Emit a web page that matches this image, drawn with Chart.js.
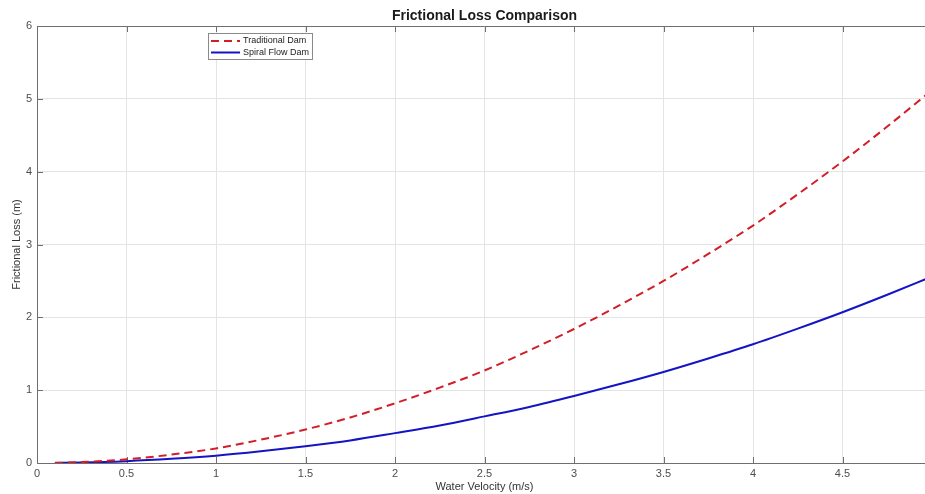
<!DOCTYPE html>
<html lang="en">
<head>
<meta charset="UTF-8">
<title>Frictional Loss Comparison</title>
<style>
  body { margin: 0; background: #fff; overflow: hidden; }
  #wrap { width: 925px; height: 494px; overflow: hidden; }
  canvas { display: block; }
</style>
<script src="https://cdn.jsdelivr.net/npm/chart.js"></script>
</head>
<body>
<div id="wrap"><canvas id="chart" width="950" height="494"></canvas></div>
<script>
// values
const velocity = [0.1, 0.25, 0.5, 0.75, 1, 1.25, 1.5, 1.75, 2, 2.25, 2.5, 2.75, 3, 3.25, 3.5, 3.75, 4, 4.25, 4.5, 4.75, 5];
const traditionalLoss = [0.002, 0.013, 0.05, 0.115, 0.2, 0.32, 0.46, 0.625, 0.82, 1.035, 1.27, 1.545, 1.84, 2.16, 2.5, 2.87, 3.26, 3.69, 4.14, 4.62, 5.12];
const spiralLoss = [0.001, 0.006, 0.025, 0.057, 0.1, 0.16, 0.23, 0.31, 0.41, 0.515, 0.64, 0.77, 0.92, 1.08, 1.25, 1.435, 1.63, 1.845, 2.07, 2.31, 2.56];
const xTickLabels = ['0', '0.5', '1', '1.5', '2', '2.5', '3', '3.5', '4', '4.5', '5'];
const yTickLabels = ['0', '1', '2', '3', '4', '5', '6'];
const chartTitle = 'Frictional Loss Comparison';

const FONT = 'Liberation Sans, Arial, sans-serif';
const RED = 'rgb(210, 30, 40)';
const BLUE = 'rgb(20, 20, 196)';

const toXY = (ys) => ys.map((v, i) => ({ x: velocity[i], y: v }));

// MATLAB-style box: title over the axes, top edge, inward tick marks, legend inside
const matlabFrame = {
    id: 'matlabFrame',
    beforeDatasetsDraw(chart) {
        const { ctx, chartArea: a, scales: { x, y } } = chart;
        ctx.save();
        ctx.strokeStyle = '#6f6f6f';
        ctx.lineWidth = 1;
        ctx.beginPath();
        ctx.moveTo(a.left, a.top + 0.5);
        ctx.lineTo(a.right, a.top + 0.5);
        x.ticks.forEach(t => {
            const px = Math.round(x.getPixelForValue(t.value)) + 0.5;
            ctx.moveTo(px, a.bottom);
            ctx.lineTo(px, a.bottom - 6);
            ctx.moveTo(px, a.top);
            ctx.lineTo(px, a.top + 6);
        });
        y.ticks.forEach(t => {
            const py = Math.round(y.getPixelForValue(t.value)) + 0.5;
            ctx.moveTo(a.left, py);
            ctx.lineTo(a.left + 6, py);
        });
        ctx.stroke();

        ctx.fillStyle = '#1a1a1a';
        ctx.font = 'bold 14px ' + FONT;
        ctx.textAlign = 'center';
        ctx.textBaseline = 'middle';
        ctx.fillText(chartTitle, (a.left + a.right) / 2, a.top - 10);
        ctx.restore();
    },
    afterDraw(chart) {
        const { ctx, chartArea: a } = chart;
        const bx = a.left + 171, by = a.top + 7, bw = 104, bh = 26;
        ctx.save();
        ctx.fillStyle = '#fff';
        ctx.fillRect(bx, by, bw, bh);
        ctx.strokeStyle = '#8a8a8a';
        ctx.lineWidth = 1;
        ctx.strokeRect(bx + 0.5, by + 0.5, bw, bh);
        ctx.font = '9px ' + FONT;
        ctx.textBaseline = 'middle';
        chart.data.datasets.forEach((ds, i) => {
            const ly = by + 8 + i * 11.5;
            ctx.strokeStyle = ds.borderColor;
            ctx.lineWidth = 2;
            ctx.setLineDash(ds.borderDash || []);
            ctx.beginPath();
            ctx.moveTo(bx + 3, ly);
            ctx.lineTo(bx + 32, ly);
            ctx.stroke();
            ctx.setLineDash([]);
            ctx.fillStyle = '#222';
            ctx.fillText(ds.label, bx + 35, ly);
        });
        ctx.restore();
    }
};

new Chart(document.getElementById('chart'), {
    type: 'scatter',
    data: {
        datasets: [{
            label: 'Traditional Dam',
            data: toXY(traditionalLoss),
            showLine: true,
            borderColor: RED,
            borderWidth: 2,
            borderDash: [8, 5],
            pointRadius: 0,
            cubicInterpolationMode: 'monotone'
        }, {
            label: 'Spiral Flow Dam',
            data: toXY(spiralLoss),
            showLine: true,
            borderColor: BLUE,
            borderWidth: 2,
            pointRadius: 0,
            cubicInterpolationMode: 'monotone'
        }]
    },
    options: {
        responsive: false,
        animation: false,
        layout: { padding: { top: 26, right: 18, bottom: 0, left: 0 } },
        plugins: {
            legend: { display: false },
            tooltip: { enabled: false },
            title: { display: false }
        },
        scales: {
            x: {
                type: 'linear',
                min: 0,
                max: 5,
                afterBuildTicks: s => { s.ticks = xTickLabels.map(v => ({ value: +v })); },
                ticks: {
                    callback: (v, i) => xTickLabels[i],
                    color: '#4d4d4d',
                    font: { family: FONT, size: 11 },
                    padding: 4,
                    maxRotation: 0
                },
                grid: { color: '#e4e4e4', drawTicks: false },
                border: { color: '#6f6f6f' },
                title: {
                    display: true,
                    text: 'Water Velocity (m/s)',
                    color: '#333',
                    font: { family: FONT, size: 11 },
                    padding: { top: 0, bottom: 0 }
                },
                afterFit: s => { s.height = 31; }
            },
            y: {
                min: 0,
                max: 6,
                afterBuildTicks: s => { s.ticks = yTickLabels.map(v => ({ value: +v })); },
                ticks: {
                    callback: (v, i) => yTickLabels[i],
                    color: '#4d4d4d',
                    font: { family: FONT, size: 11 },
                    padding: 5
                },
                grid: { color: '#e4e4e4', drawTicks: false },
                border: { color: '#6f6f6f' },
                title: {
                    display: true,
                    text: 'Frictional Loss (m)',
                    color: '#333',
                    font: { family: FONT, size: 11 },
                    padding: { top: 10, bottom: 0 }
                },
                afterFit: s => { s.width = 37; }
            }
        }
    },
    plugins: [matlabFrame]
});
</script>
</body>
</html>
